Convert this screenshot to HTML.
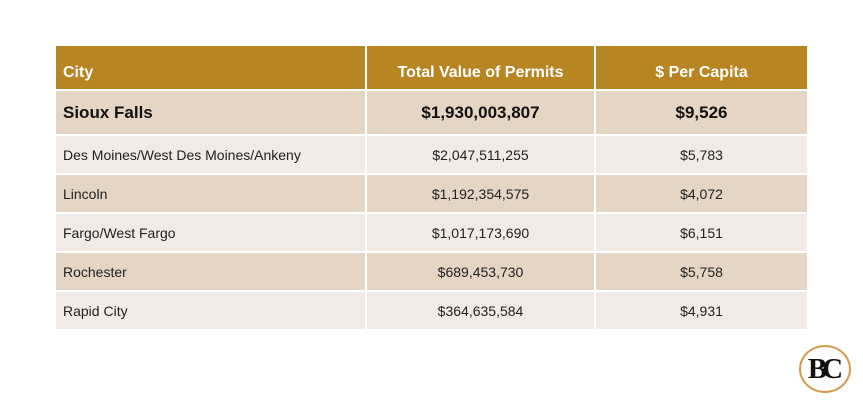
<!DOCTYPE html><html><head><style>
body{margin:0;width:863px;height:403px;background:#fff;font-family:"Liberation Sans",sans-serif;position:relative;overflow:hidden}
.r{position:absolute;left:56px;width:751px;display:flex}
.r div{box-sizing:border-box;display:flex;align-items:center;font-size:14px;color:#222}
.c1{width:309px;padding-left:7px}
.c2{width:227px;margin-left:2px;justify-content:center}
.c3{width:211px;margin-left:2px;justify-content:center}
.h div{background:#b88523;color:#fff;font-weight:bold;font-size:16px;align-items:flex-end;padding-bottom:7px}
.d div{background:#e5d5c4}
.l div{background:#f2eae4}
.b div{font-weight:bold;font-size:17px;color:#111}
</style></head><body>
<div class="r h" style="top:46px;height:43px"><div class="c1">City</div><div class="c2">Total Value of Permits</div><div class="c3">$ Per Capita</div></div>
<div class="r d b" style="top:91px;height:43px"><div class="c1">Sioux Falls</div><div class="c2">$1,930,003,807</div><div class="c3">$9,526</div></div>
<div class="r l" style="top:136px;height:37px"><div class="c1">Des Moines/West Des Moines/Ankeny</div><div class="c2">$2,047,511,255</div><div class="c3">$5,783</div></div>
<div class="r d" style="top:175px;height:37px"><div class="c1">Lincoln</div><div class="c2">$1,192,354,575</div><div class="c3">$4,072</div></div>
<div class="r l" style="top:214px;height:37px"><div class="c1">Fargo/West Fargo</div><div class="c2">$1,017,173,690</div><div class="c3">$6,151</div></div>
<div class="r d" style="top:253px;height:37px"><div class="c1">Rochester</div><div class="c2">$689,453,730</div><div class="c3">$5,758</div></div>
<div class="r l" style="top:292px;height:37px"><div class="c1">Rapid City</div><div class="c2">$364,635,584</div><div class="c3">$4,931</div></div>
<div style="position:absolute;left:799px;top:345px;width:52px;height:48px;border:2px solid #d49a4c;border-radius:50%;box-sizing:border-box;display:flex;align-items:center;justify-content:center;font-family:'Liberation Serif',serif;font-size:29px;font-weight:bold;color:#111;letter-spacing:-5px;padding-right:4px">BC</div>
</body></html>
